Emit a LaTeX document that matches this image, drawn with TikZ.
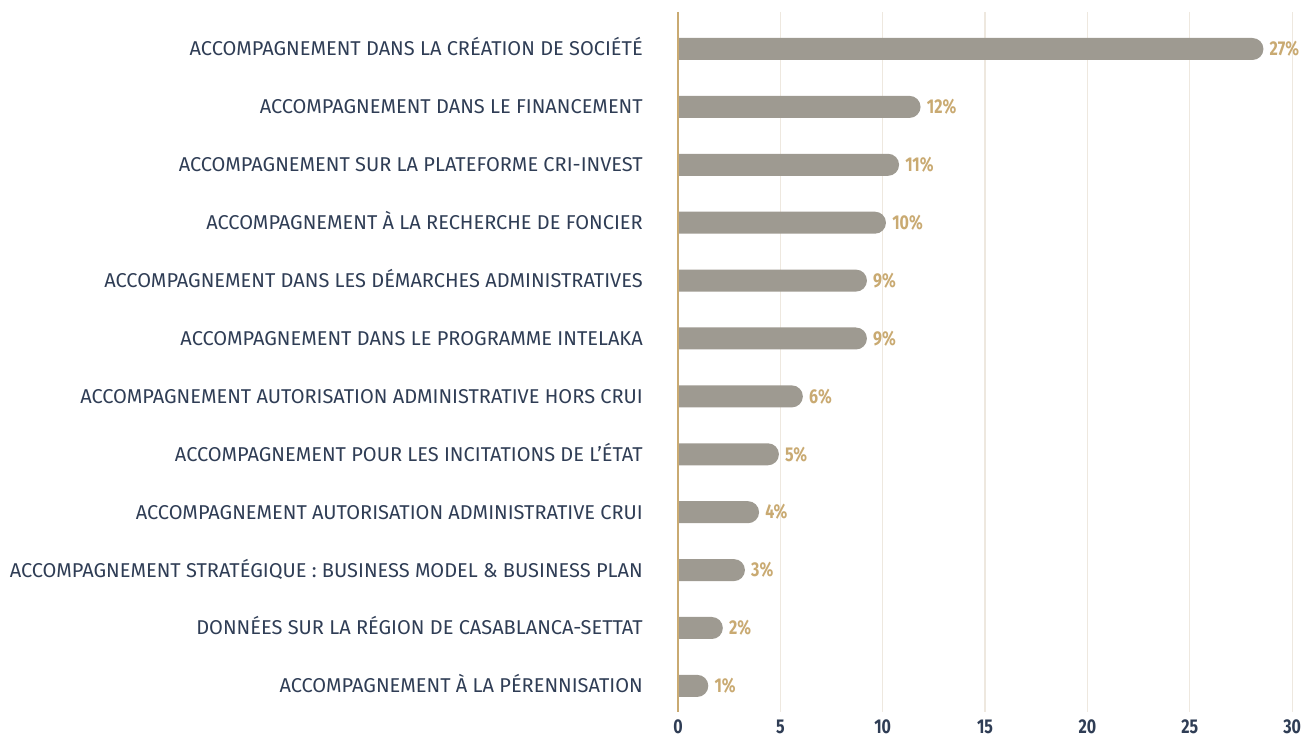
\documentclass[tikz,border=0pt]{standalone}
\usepackage{fontspec}
\setmainfont{Fira Sans}
\newfontfamily\condbold[FakeStretch=0.8]{Fira Sans Bold}
\usetikzlibrary{positioning}
\definecolor{bartaupe}{HTML}{9E9A91}
\definecolor{accentgold}{HTML}{C9AA72}
\definecolor{gridbeige}{HTML}{EEE8DF}
\definecolor{labelnavy}{HTML}{2F3D55}

\begin{document}
\begin{tikzpicture}[x=0.75pt,y=-0.75pt,
    catlabel/.style={anchor=base east, text=labelnavy, inner sep=0pt, font=\fontsize{15}{18}\selectfont},
    pctlabel/.style={anchor=west, text=accentgold, inner sep=0pt, font=\condbold\fontsize{15}{18}\selectfont},
    ticklabel/.style={text=labelnavy, inner sep=0pt, font=\condbold\fontsize{15}{18}\selectfont},
    barfill/.style={fill=bartaupe},
    gridline/.style={draw=gridbeige, line width=0.9pt},
    axisline/.style={draw=accentgold, line width=1.9pt}]
    % Frame
    \useasboundingbox (0,0) rectangle (1311,737);

    % Vertical grid
    \foreach \t in {5,10,...,30} {
        \draw[gridline] (678+\t*20.47,12) -- (678+\t*20.47,712);
    }

    % Bars, values and categories
    \foreach \len/\pct/\txt [count=\i from 0] in {
        28.6/27/{ACCOMPAGNEMENT DANS LA CRÉATION DE SOCIÉTÉ},
        11.85/12/{ACCOMPAGNEMENT DANS LE FINANCEMENT},
        10.8/11/{ACCOMPAGNEMENT SUR LA PLATEFORME CRI-INVEST},
        10.16/10/{ACCOMPAGNEMENT À LA RECHERCHE DE FONCIER},
        9.23/9/{ACCOMPAGNEMENT DANS LES DÉMARCHES ADMINISTRATIVES},
        9.23/9/{ACCOMPAGNEMENT DANS LE PROGRAMME INTELAKA},
        6.1/6/{ACCOMPAGNEMENT AUTORISATION ADMINISTRATIVE HORS CRUI},
        4.93/5/{ACCOMPAGNEMENT POUR LES INCITATIONS DE L’ÉTAT},
        3.96/4/{ACCOMPAGNEMENT AUTORISATION ADMINISTRATIVE CRUI},
        3.27/3/{ACCOMPAGNEMENT STRATÉGIQUE : BUSINESS MODEL \& BUSINESS PLAN},
        2.19/2/{DONNÉES SUR LA RÉGION DE CASABLANCA-SETTAT},
        1.48/1/{ACCOMPAGNEMENT À LA PÉRENNISATION}} {
        \pgfmathsetmacro{\y}{49+\i*57.9}
        \pgfmathsetmacro{\e}{678+\len*20.47}
        \coordinate (barend\i) at (\e,\y);
        \fill[barfill] (678,\y-11) -- (\e-11,\y-11)
            arc[start angle=90, end angle=-90, radius=8.25pt] -- (678,\y+11) -- cycle;
        \node[pctlabel, right=4.5pt of barend\i] (pct\i) {\pct\%};
        \node[catlabel] (cat\i) at (643,\y+7) {\txt};
    }

    % Axis
    \draw[axisline] (678,12) -- (678,712);
    \foreach \t in {0,5,...,30} {
        \node[ticklabel] (tick\t) at (678+\t*20.47,727) {\t};
    }
\end{tikzpicture}
\end{document}
